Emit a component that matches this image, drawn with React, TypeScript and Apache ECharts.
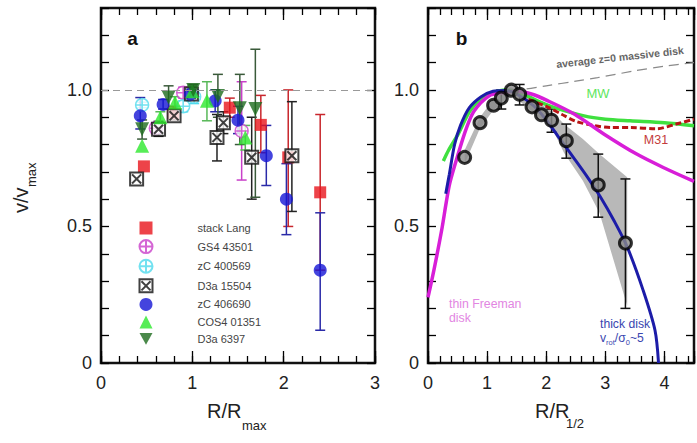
import React, { useEffect, useRef } from 'react';
import * as echarts from 'echarts';

const FONT = '"Liberation Sans", Arial, Helvetica, sans-serif';

// ---- Panel a: [x, y, errLow, errHigh] ----
const stackLang = [[0.47, 0.72, 0.72, 0.72], [0.79, 0.915, 0.89, 0.94], [1.41, 0.935, 0.9, 0.97], [1.75, 0.872, 0.77, 0.98], [2.05, 0.753, 0.5, 1.0], [2.4, 0.625, 0.34, 0.91]];
const gs4_43501 = [[0.6, 0.86, 0.84, 0.88], [0.9, 0.99, 0.97, 1.01], [1.54, 0.85, 0.67, 1.03]];
const zc400569 = [[0.45, 0.945, 0.935, 0.955], [0.9, 0.94, 0.92, 0.96], [1.02, 0.975, 0.95, 1.0]];
const d3a15504 = [[0.39, 0.674, 0.674, 0.674], [0.63, 0.856, 0.83, 0.885], [0.8, 0.905, 0.89, 0.92], [0.99, 0.985, 0.96, 1.01], [1.27, 0.826, 0.74, 0.91], [1.34, 0.88, 0.84, 0.92], [1.65, 0.753, 0.6, 0.9], [2.09, 0.759, 0.555, 0.957]];
const zc406690 = [[0.43, 0.905, 0.857, 0.972], [0.68, 0.947, 0.93, 0.965], [0.98, 0.985, 0.965, 1.005], [1.25, 0.96, 0.92, 1.0], [1.5, 0.889, 0.84, 0.94], [1.81, 0.759, 0.65, 0.87], [2.03, 0.6, 0.47, 0.73], [2.4, 0.34, 0.12, 0.55]];
const cos4_01351 = [[0.45, 0.796, 0.796, 0.796], [0.65, 0.9, 0.88, 0.92], [0.81, 0.954, 0.93, 0.975], [1.0, 0.995, 0.975, 1.015], [1.16, 0.96, 0.887, 1.03], [1.58, 0.826, 0.78, 0.87]];
const d3a6397 = [[0.45, 0.856, 0.82, 0.89], [0.74, 0.972, 0.93, 1.015], [1.01, 1.0, 0.98, 1.02], [1.28, 0.978, 0.9, 1.057], [1.52, 0.933, 0.8, 1.057], [1.69, 0.93, 0.607, 1.149]];
const refLevel = 1.0;

// ---- Panel b ----
const stackPoints = [[0.62, 0.753, 0.753, 0.753], [0.88, 0.88, 0.88, 0.88], [1.11, 0.944, 0.944, 0.944], [1.24, 0.97, 0.93, 1.0], [1.41, 0.999, 0.999, 0.999], [1.55, 0.984, 0.945, 1.02], [1.76, 0.938, 0.938, 0.938], [1.92, 0.909, 0.909, 0.909], [2.09, 0.889, 0.845, 0.93], [2.34, 0.814, 0.75, 0.875], [2.88, 0.652, 0.534, 0.765], [3.34, 0.439, 0.2, 0.674]];
const bandX = [0.62, 0.88, 1.1, 1.4, 1.8, 2.1, 2.3, 2.62, 2.9, 3.37];
const bandHi = [0.78, 0.9, 0.965, 1.01, 0.965, 0.92, 0.875, 0.82, 0.765, 0.68];
const bandLo = [0.73, 0.86, 0.925, 0.985, 0.915, 0.86, 0.77, 0.667, 0.55, 0.21];
const thickDisk = [[0.3, 0.62], [0.36, 0.69], [0.45, 0.8], [0.55, 0.87], [0.7, 0.935], [0.9, 0.975], [1.1, 0.995], [1.3, 0.998], [1.5, 0.985], [1.8, 0.94], [2.0, 0.89], [2.2, 0.83], [2.48, 0.747], [2.7, 0.68], [2.92, 0.607], [3.15, 0.52], [3.37, 0.425], [3.64, 0.266], [3.84, 0.12], [3.9, 0.0]];
const thinFreeman = [[0.0, 0.24], [0.1, 0.34], [0.23, 0.485], [0.31, 0.59], [0.37, 0.66], [0.51, 0.765], [0.65, 0.86], [0.78, 0.923], [1.03, 0.978], [1.26, 0.99], [1.5, 0.995], [1.75, 0.985], [2.03, 0.96], [2.48, 0.911], [2.98, 0.838], [3.53, 0.765], [3.98, 0.716], [4.5, 0.665]];
const milkyWay = [[0.26, 0.74], [0.35, 0.78], [0.51, 0.838], [0.7, 0.92], [0.9, 0.97], [1.1, 0.99], [1.3, 1.0], [1.6, 0.985], [1.9, 0.955], [2.14, 0.935], [2.64, 0.905], [3.0, 0.893], [3.42, 0.887], [4.0, 0.88], [4.5, 0.869]];
const m31 = [[1.7, 0.965], [2.0, 0.94], [2.26, 0.911], [2.5, 0.885], [2.8, 0.87], [3.1, 0.862], [3.42, 0.862], [3.87, 0.858], [4.2, 0.875], [4.5, 0.893]];
const avgMassive = [[1.4, 1.0], [1.64, 1.003], [2.0, 1.015], [2.5, 1.032], [2.87, 1.045], [3.5, 1.07], [4.0, 1.087], [4.5, 1.1]];

const legendNames = ['stack Lang', 'GS4 43501', 'zC 400569', 'D3a 15504', 'zC 406690', 'COS4 01351', 'D3a 6397'];

const CROSS_SQUARE = 'path://M0,0L20,0L20,20L0,20Z M3,3L17,17 M17,3L3,17';
const CROSS_CIRCLE = 'path://M10,0A10,10,0,1,1,10,20A10,10,0,1,1,10,0Z M0,10L20,10 M10,0L10,20';
const DOWN_TRIANGLE = 'path://M0,0L20,0L10,18Z';

const xLabel = (v: number) => (Math.abs(v - Math.round(v)) < 1e-6 ? String(Math.round(v)) : '');
const yLabel = (v: number) => {
  if (Math.abs(v) < 1e-6) return '0';
  if (Math.abs(v - 0.5) < 1e-6) return '0.5';
  if (Math.abs(v - 1) < 1e-6) return '1.0';
  return '';
};

function xAxes(gridIndex: number, max: number) {
  const base = { gridIndex, type: 'value', min: 0, max, splitLine: { show: false }, axisLine: { show: false, onZero: false } };
  const mk = (position: string, interval: number, len: number, labels: boolean) => ({
    ...base,
    position,
    interval,
    axisTick: { show: true, inside: true, length: len, lineStyle: { color: '#000', width: 1.3 } },
    axisLabel: labels
      ? { show: true, formatter: xLabel, fontSize: 18, color: '#222', fontFamily: FONT, margin: 11, showMinLabel: true, showMaxLabel: true }
      : { show: false },
  });
  return [mk('bottom', 0.2, 7, true), mk('bottom', 1, 12, false), mk('top', 0.2, 7, false), mk('top', 1, 12, false)];
}

function yAxes(gridIndex: number) {
  const mk = (position: string, labels: boolean) => ({
    gridIndex,
    type: 'value',
    min: 0,
    max: 1.3,
    interval: 0.1,
    position,
    splitLine: { show: false },
    axisLine: { show: false, onZero: false },
    axisTick: { show: true, inside: true, length: 8, lineStyle: { color: '#000', width: 1.3 } },
    axisLabel: labels
      ? { show: true, formatter: yLabel, fontSize: 18, color: '#222', fontFamily: FONT, margin: 9, showMinLabel: true }
      : { show: false },
  });
  return [mk('left', true), mk('right', false)];
}

function errSeries(name: string, data: number[][], color: string, xi: number, yi: number, capW = 5, lw = 1.5) {
  return {
    type: 'custom',
    name,
    xAxisIndex: xi,
    yAxisIndex: yi,
    data,
    z: 2,
    silent: true,
    encode: { x: 0, y: 1 },
    renderItem: (params: any, api: any) => {
      const x = api.value(0);
      const lo = api.value(2);
      const hi = api.value(3);
      if (lo === hi) return;
      const p1 = api.coord([x, lo]);
      const p2 = api.coord([x, hi]);
      const st = { stroke: color, lineWidth: lw };
      return {
        type: 'group',
        children: [
          { type: 'line', shape: { x1: p1[0], y1: p1[1], x2: p2[0], y2: p2[1] }, style: st },
          { type: 'line', shape: { x1: p1[0] - capW, y1: p1[1], x2: p1[0] + capW, y2: p1[1] }, style: st },
          { type: 'line', shape: { x1: p2[0] - capW, y1: p2[1], x2: p2[0] + capW, y2: p2[1] }, style: st },
        ],
      };
    },
  };
}

function scatter(name: string, data: number[][], symbol: string, size: number, itemStyle: any) {
  return {
    type: 'scatter',
    name,
    xAxisIndex: 0,
    yAxisIndex: 0,
    data: data.map((d) => [d[0], d[1]]),
    symbol,
    symbolSize: size,
    itemStyle,
    z: 3,
    silent: true,
  };
}

function curve(data: number[][], color: string, width: number, type: any = 'solid', z = 2) {
  return {
    type: 'line',
    xAxisIndex: 4,
    yAxisIndex: 2,
    data,
    smooth: 0.3,
    showSymbol: false,
    symbol: 'none',
    lineStyle: { color, width, type },
    z,
    silent: true,
  };
}

export default function App() {
  const ref = useRef<HTMLDivElement>(null);
  useEffect(() => {
    if (!ref.current) return;
    const chart = echarts.init(ref.current, undefined, { renderer: 'svg' });
    const red = '#e8141c';
    const magenta = '#c940c9';
    const cyan = '#4fd9ec';
    const blue = '#1515d6';
    const green = '#2de82d';
    const dgreen = '#1d6b1d';

    const option: any = {
      animation: false,
      backgroundColor: '#fff',
      grid: [
        { left: 101, top: 8, width: 274, height: 355, show: true, borderColor: '#111', borderWidth: 2.5, backgroundColor: 'transparent' },
        { left: 428, top: 8, width: 270, height: 355, show: true, borderColor: '#111', borderWidth: 2.5, backgroundColor: 'transparent' },
      ],
      xAxis: [...xAxes(0, 3), ...xAxes(1, 4.5)],
      yAxis: [...yAxes(0), ...yAxes(1)],
      legend: {
        data: legendNames,
        orient: 'vertical',
        left: 138.5,
        top: 221.5,
        padding: 0,
        itemWidth: 13,
        itemHeight: 13,
        itemGap: 4.6,
        selectedMode: false,
        textStyle: { fontSize: 11, color: '#444', fontFamily: FONT, padding: [0, 0, 0, 40] },
      },
      series: [
        // panel a error bars
        errSeries('e1', stackLang, '#c8262c', 0, 0),
        errSeries('e2', gs4_43501, magenta, 0, 0),
        errSeries('e3', zc400569, cyan, 0, 0),
        errSeries('e4', d3a15504, '#222', 0, 0),
        errSeries('e5', zc406690, '#2a2aa8', 0, 0),
        errSeries('e6', cos4_01351, '#58b858', 0, 0),
        errSeries('e7', d3a6397, '#3a5a3a', 0, 0),
        // panel a markers
        {
          ...scatter('stack Lang', stackLang, 'rect', 12, { color: red }),
          markLine: {
            silent: true,
            symbol: 'none',
            label: { show: false },
            lineStyle: { type: [7, 5], color: '#999', width: 1.2 },
            data: [{ yAxis: refLevel }],
          },
        },
        scatter('GS4 43501', gs4_43501, CROSS_CIRCLE, 13, { color: '#fff', borderColor: magenta, borderWidth: 1.5 }),
        scatter('zC 400569', zc400569, CROSS_CIRCLE, 13, { color: '#fff', borderColor: cyan, borderWidth: 1.5 }),
        scatter('D3a 15504', d3a15504, CROSS_SQUARE, 13, { color: '#fff', borderColor: '#111', borderWidth: 2 }),
        scatter('zC 406690', zc406690, 'circle', 13, { color: blue }),
        scatter('COS4 01351', cos4_01351, 'triangle', 14, { color: green }),
        scatter('D3a 6397', d3a6397, DOWN_TRIANGLE, 14, { color: dgreen }),
        // panel b
        {
          type: 'custom',
          xAxisIndex: 4,
          yAxisIndex: 2,
          data: bandX.map((x, i) => [x, bandLo[i], bandHi[i]]),
          encode: { x: 0, y: 1 },
          z: 1,
          silent: true,
          renderItem: (params: any, api: any) => {
            if (params.dataIndex !== 0) return;
            const up = bandX.map((x, i) => api.coord([x, bandHi[i]]));
            const lo = bandX.map((x, i) => api.coord([x, bandLo[i]])).reverse();
            return { type: 'polygon', shape: { points: up.concat(lo) }, style: { fill: '#b8b8b8', stroke: 'none' } };
          },
        },
        curve(avgMassive, '#8a8a8a', 1.2, [10, 6]),
        curve(milkyWay, '#3fe03f', 3.5),
        curve(m31, '#b81414', 3, [6, 3]),
        curve(thinFreeman, '#d81ed8', 3.5),
        curve(thickDisk, '#1c1ca8', 3),
        errSeries('eb', stackPoints, '#111', 4, 2, 5, 1.5),
        {
          type: 'scatter',
          xAxisIndex: 4,
          yAxisIndex: 2,
          data: stackPoints.map((d) => [d[0], d[1]]),
          symbol: 'circle',
          symbolSize: 12,
          itemStyle: { color: '#8a8a8a', borderColor: '#000', borderWidth: 3 },
          z: 4,
          silent: true,
        },
      ],
      graphic: [
        // y title
        {
          type: 'group',
          x: 21,
          y: 200,
          rotation: Math.PI / 2,
          children: [
            { type: 'text', x: -13, y: 0, style: { text: 'v/v', fontSize: 20, fontFamily: FONT, fill: '#222', verticalAlign: 'middle', textAlign: 'left' } },
            { type: 'text', x: 13, y: 10, style: { text: 'max', fontSize: 13, fontFamily: FONT, fill: '#222', verticalAlign: 'middle', textAlign: 'left' } },
          ],
        },
        // x titles
        { type: 'text', x: 207, y: 411, style: { text: 'R/R', fontSize: 20, fontFamily: FONT, fill: '#222', verticalAlign: 'middle', textAlign: 'left' } },
        { type: 'text', x: 242, y: 425, style: { text: 'max', fontSize: 13, fontFamily: FONT, fill: '#222', verticalAlign: 'middle', textAlign: 'left' } },
        { type: 'text', x: 535, y: 411, style: { text: 'R/R', fontSize: 20, fontFamily: FONT, fill: '#222', verticalAlign: 'middle', textAlign: 'left' } },
        { type: 'text', x: 566, y: 423, style: { text: '1/2', fontSize: 13, fontFamily: FONT, fill: '#222', verticalAlign: 'middle', textAlign: 'left' } },
        // panel letters
        { type: 'text', x: 132.5, y: 38, z: 10, style: { text: 'a', fontSize: 19, fontWeight: 'bold', fontFamily: FONT, fill: '#111', verticalAlign: 'middle', textAlign: 'center' } },
        { type: 'text', x: 461.5, y: 38, z: 10, style: { text: 'b', fontSize: 19, fontWeight: 'bold', fontFamily: FONT, fill: '#111', verticalAlign: 'middle', textAlign: 'center' } },
        // panel b annotations
        { type: 'text', x: 620, y: 57, rotation: 0.11, z: 10, style: { text: 'average z=0 massive disk', fontSize: 10.5, fontWeight: 'bold', fontFamily: FONT, fill: '#666', verticalAlign: 'middle', textAlign: 'center' } },
        { type: 'text', x: 598, y: 93, z: 10, style: { text: 'MW', fontSize: 13, fontFamily: FONT, fill: '#5ee65e', verticalAlign: 'middle', textAlign: 'center' } },
        { type: 'text', x: 656, y: 140, z: 10, style: { text: 'M31', fontSize: 12.5, fontFamily: FONT, fill: '#c43c3c', verticalAlign: 'middle', textAlign: 'center' } },
        { type: 'text', x: 449, y: 303.5, z: 10, style: { text: 'thin Freeman', fontSize: 12.3, fontFamily: FONT, fill: '#e286e2', verticalAlign: 'middle', textAlign: 'left' } },
        { type: 'text', x: 449, y: 317.5, z: 10, style: { text: 'disk', fontSize: 12.3, fontFamily: FONT, fill: '#e286e2', verticalAlign: 'middle', textAlign: 'left' } },
        { type: 'text', x: 600, y: 324, z: 10, style: { text: 'thick disk', fontSize: 12.2, fontFamily: FONT, fill: '#3a46b0', verticalAlign: 'middle', textAlign: 'left' } },
        {
          type: 'text',
          x: 600,
          y: 338,
          z: 10,
          style: {
            text: '{a|v}{s|rot}{a|/σ}{s|0}{a|~5}',
            fontFamily: FONT,
            fill: '#3a46b0',
            verticalAlign: 'middle',
            textAlign: 'left',
            rich: {
              a: { fontSize: 12.2, fill: '#3a46b0', fontFamily: FONT, lineHeight: 16, verticalAlign: 'middle' },
              s: { fontSize: 7.5, fill: '#3a46b0', fontFamily: FONT, lineHeight: 16, verticalAlign: 'bottom' },
            },
          },
        },
      ],
    };
    chart.setOption(option);
    return () => chart.dispose();
  }, []);
  return <div ref={ref} style={{ position: 'fixed', left: 0, top: 0, width: 697, height: 443, background: '#fff' }} />;
}
